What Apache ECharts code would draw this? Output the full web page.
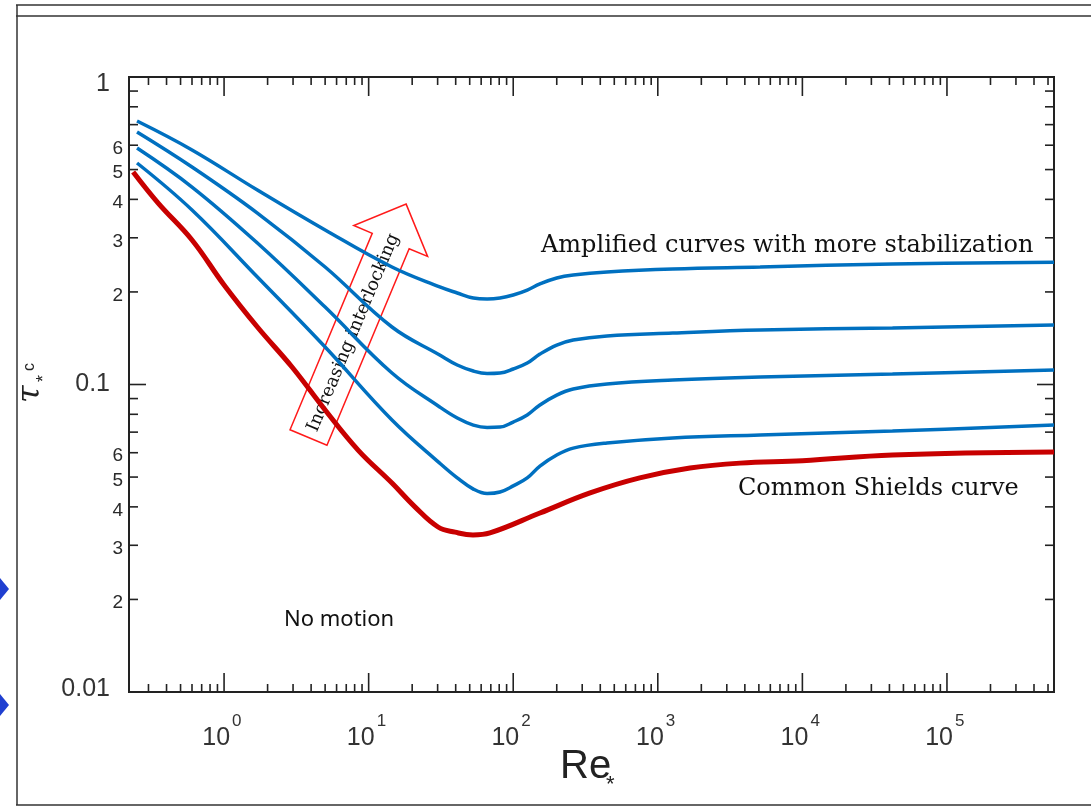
<!DOCTYPE html>
<html>
<head>
<meta charset="utf-8">
<script src="https://cdn.jsdelivr.net/npm/echarts@6/dist/echarts.min.js"></script>
<style>
  html, body { margin: 0; padding: 0; background: #ffffff; }
  #chart { width: 1091px; height: 812px; }
</style>
</head>
<body>
<div id="chart"></div>
<script>
// Axis ranges (particle Reynolds number vs. critical Shields stress)
const RE_MIN = 0.22, RE_MAX = 5.5e5;
const TAU_MIN = 0.01, TAU_MAX = 1;

// Amplified (interlocked) curves, highest (1) to lowest (4)
const reBlue = [0.25, 0.6, 1.7, 5, 14.5, 31, 41, 53, 66, 81, 100, 125, 153, 200, 260, 445, 1270, 5100, 42000, 550000];
const tauBlue1 = [0.719, 0.579, 0.429, 0.318, 0.241, 0.2076, 0.1984, 0.1911, 0.1897, 0.1911, 0.1955, 0.2029, 0.2123, 0.222, 0.227, 0.2322, 0.2375, 0.241, 0.2466, 0.25];
const tauBlue2 = [0.6625, 0.5097, 0.361, 0.241, 0.1538, 0.1247, 0.1157, 0.1106, 0.1086, 0.109, 0.1123, 0.1174, 0.1256, 0.1344, 0.1395, 0.1438, 0.147, 0.1504, 0.1527, 0.1562];
const tauBlue3 = [0.5875, 0.4387, 0.2885, 0.1786, 0.109, 0.0845, 0.0778, 0.0738, 0.0725, 0.0727, 0.0755, 0.0796, 0.0858, 0.0924, 0.0967, 0.1004, 0.1034, 0.1058, 0.1082, 0.1115];
const tauBlue4 = [0.5252, 0.3694, 0.2237, 0.1324, 0.0767, 0.0555, 0.0497, 0.0457, 0.0442, 0.0447, 0.0468, 0.0497, 0.0543, 0.059, 0.0621, 0.0645, 0.067, 0.0685, 0.0706, 0.0738];

// Common Shields curve
const reRed = [0.235, 0.35, 0.6, 1.0, 1.7, 2.95, 5, 8.45, 14.5, 20.9, 30.2, 39.6, 52.7, 69, 153, 340, 750, 1670, 3700, 10000, 42000, 550000];
const tauRed = [0.491, 0.389, 0.2951, 0.2107, 0.1538, 0.114, 0.0826, 0.0612, 0.0478, 0.04, 0.0344, 0.0331, 0.0324, 0.0329, 0.0382, 0.0444, 0.0497, 0.0535, 0.0555, 0.0565, 0.059, 0.0603];

// Tick values and labels
const xMajorTicks = [1, 10, 100, 1000, 10000, 100000];
const xMajorExponents = ['0', '1', '2', '3', '4', '5'];
const xDecades = [0.1, 1, 10, 100, 1000, 10000, 100000];
const yMajorTicks = [0.01, 0.1, 1];
const yMajorLabels = ['0.01', '0.1', '1'];
const yDecades = [0.01, 0.1];
const tickMantissas = [2, 3, 4, 5, 6, 7, 8, 9];
const yMinorLabelled = [2, 3, 4, 5, 6];

const AXIS_COLOR = '#222222';
const LABEL_COLOR = '#333333';
const BLUE = '#0070c0';
const RED = '#c80000';

function pair(xs, ys) { return xs.map((x, i) => [x, ys[i]]); }

// Build tick lists (major + minor) for both axes
const xTickList = [];
xMajorTicks.forEach((v, i) => xTickList.push({ v: v, major: true, exp: xMajorExponents[i] }));
xDecades.forEach(d => tickMantissas.forEach(m => {
  const v = d * m;
  if (v > RE_MIN && v < RE_MAX) xTickList.push({ v: v, major: false });
}));

const yTickList = [];
yMajorTicks.forEach((v, i) => yTickList.push({ v: v, major: true, label: yMajorLabels[i] }));
yDecades.forEach(d => tickMantissas.forEach(m => {
  yTickList.push({ v: d * m, major: false, label: yMinorLabelled.indexOf(m) >= 0 ? String(m) : null });
}));

// Inward ticks on bottom and top edges, with 10^n labels under the bottom edge
function renderXTick(params, api) {
  const t = xTickList[params.dataIndex];
  const b = api.coord([t.v, TAU_MIN]);
  const tp = api.coord([t.v, TAU_MAX]);
  const len = t.major ? 19 : 8;
  const x = b[0];
  const st = { stroke: AXIS_COLOR, lineWidth: 1.6 };
  const children = [
    { type: 'line', shape: { x1: x, y1: b[1], x2: x, y2: b[1] - len }, style: st },
    { type: 'line', shape: { x1: x, y1: tp[1], x2: x, y2: tp[1] + len }, style: st }
  ];
  if (t.major) {
    children.push({ type: 'text', x: x + 6, y: b[1] + 46,
      style: { text: '10', fill: LABEL_COLOR, font: '25px "Liberation Sans", Arial, sans-serif', align: 'right', verticalAlign: 'middle' } });
    children.push({ type: 'text', x: x + 8, y: b[1] + 29,
      style: { text: t.exp, fill: LABEL_COLOR, font: '17px "Liberation Sans", Arial, sans-serif', align: 'left', verticalAlign: 'middle' } });
  }
  return { type: 'group', children: children };
}

// Inward ticks on left and right edges, labels on the left
function renderYTick(params, api) {
  const t = yTickList[params.dataIndex];
  const l = api.coord([RE_MIN, t.v]);
  const r = api.coord([RE_MAX, t.v]);
  const len = t.major ? 17 : 9;
  const st = { stroke: AXIS_COLOR, lineWidth: 1.6 };
  const children = [
    { type: 'line', shape: { x1: l[0], y1: l[1], x2: l[0] + len, y2: l[1] }, style: st },
    { type: 'line', shape: { x1: r[0], y1: r[1], x2: r[0] - len, y2: r[1] }, style: st }
  ];
  if (t.label) {
    if (t.major) {
      const dy = t.v === TAU_MAX ? 7 : (t.v === TAU_MIN ? -3 : 0);
      children.push({ type: 'text', x: l[0] - 19, y: l[1] + dy,
        style: { text: t.label, fill: LABEL_COLOR, font: '25px "Liberation Sans", Arial, sans-serif', align: 'right', verticalAlign: 'middle' } });
    } else {
      children.push({ type: 'text', x: l[0] - 6, y: l[1] + 3.5,
        style: { text: t.label, fill: '#2a2a2a', font: '19px "Liberation Sans", Arial, sans-serif', align: 'right', verticalAlign: 'middle' } });
    }
  }
  return { type: 'group', children: children };
}

const chart = echarts.init(document.getElementById('chart'), null, { renderer: 'canvas' });

const lineBase = { type: 'line', showSymbol: false, symbol: 'none', silent: true, smooth: 0.4, z: 3 };

const option = {
  animation: false,
  backgroundColor: '#ffffff',
  grid: { left: 129, right: 37, top: 77, bottom: 120, show: true, borderColor: AXIS_COLOR, borderWidth: 2, backgroundColor: 'transparent' },
  xAxis: {
    type: 'log', logBase: 10, min: RE_MIN, max: RE_MAX,
    axisLine: { show: false }, axisTick: { show: false }, axisLabel: { show: false },
    splitLine: { show: false }, minorTick: { show: false }
  },
  yAxis: {
    type: 'log', logBase: 10, min: TAU_MIN, max: TAU_MAX,
    axisLine: { show: false }, axisTick: { show: false }, axisLabel: { show: false },
    splitLine: { show: false }, minorTick: { show: false }
  },
  series: [
    { type: 'custom', name: 'x ticks', silent: true, clip: false, z: 2,
      data: xTickList.map(t => [t.v, TAU_MIN]), renderItem: renderXTick },
    { type: 'custom', name: 'y ticks', silent: true, clip: false, z: 2,
      data: yTickList.map(t => [RE_MIN, t.v]), renderItem: renderYTick },
    Object.assign({}, lineBase, { name: 'Shields', data: pair(reRed, tauRed),
      lineStyle: { color: RED, width: 5, cap: 'butt' } }),
    Object.assign({}, lineBase, { name: 'Amplified 4', data: pair(reBlue, tauBlue4), lineStyle: { color: BLUE, width: 3.5 } }),
    Object.assign({}, lineBase, { name: 'Amplified 3', data: pair(reBlue, tauBlue3), lineStyle: { color: BLUE, width: 3.5 } }),
    Object.assign({}, lineBase, { name: 'Amplified 2', data: pair(reBlue, tauBlue2), lineStyle: { color: BLUE, width: 3.5 } }),
    Object.assign({}, lineBase, { name: 'Amplified 1', data: pair(reBlue, tauBlue1), lineStyle: { color: BLUE, width: 3.5 } })
  ],
  graphic: [
    // slide frame
    { type: 'line', silent: true, shape: { x1: 16, y1: 5, x2: 1091, y2: 5 }, style: { stroke: '#333', lineWidth: 1.5 } },
    { type: 'line', silent: true, shape: { x1: 16, y1: 16, x2: 1091, y2: 16 }, style: { stroke: '#333', lineWidth: 1.5 } },
    { type: 'line', silent: true, shape: { x1: 17, y1: 5, x2: 17, y2: 805 }, style: { stroke: '#333', lineWidth: 1.5 } },
    { type: 'line', silent: true, shape: { x1: 16, y1: 805, x2: 1091, y2: 805 }, style: { stroke: '#333', lineWidth: 1.5 } },
    { type: 'polygon', silent: true, shape: { points: [[0, 578], [9, 589], [0, 600]] }, style: { fill: '#1f3fd0' } },
    { type: 'polygon', silent: true, shape: { points: [[0, 694], [9, 705], [0, 716]] }, style: { fill: '#1f3fd0' } },

    // axis titles
    { type: 'text', silent: true, x: 560, y: 767,
      style: { text: 'Re', fill: '#222', font: '40px "Liberation Sans", Arial, sans-serif', align: 'left', verticalAlign: 'middle' } },
    { type: 'text', silent: true, x: 606, y: 785,
      style: { text: '*', fill: '#222', font: '22px "Liberation Sans", Arial, sans-serif', align: 'left', verticalAlign: 'middle' } },
    { type: 'group', silent: true, x: 42, y: 403, rotation: Math.PI / 2,
      children: [
        { type: 'text', x: 0, y: -11, style: { text: 'τ', fill: '#222', font: 'italic 32px "DejaVu Serif", serif', align: 'left', verticalAlign: 'middle' } },
        { type: 'text', x: 21, y: 2, style: { text: '*', fill: '#222', font: '18px "Liberation Sans", Arial, sans-serif', align: 'left', verticalAlign: 'middle' } },
        { type: 'text', x: 32, y: -12, style: { text: 'c', fill: '#222', font: '16px "Liberation Sans", Arial, sans-serif', align: 'left', verticalAlign: 'middle' } }
      ] },

    // annotations
    { type: 'text', silent: true, x: 541, y: 246,
      style: { text: 'Amplified curves with more stabilization', fill: '#111', font: '24px "DejaVu Serif", serif', align: 'left', verticalAlign: 'middle' } },
    { type: 'text', silent: true, x: 738, y: 489,
      style: { text: 'Common Shields curve', fill: '#111', font: '24px "DejaVu Serif", serif', align: 'left', verticalAlign: 'middle' } },
    { type: 'text', silent: true, x: 284, y: 620,
      style: { text: 'No motion', fill: '#111', font: '22px "Noto Sans", sans-serif', align: 'left', verticalAlign: 'middle' } },

    // "Increasing interlocking" arrow
    { type: 'group', silent: true, x: 308.5, y: 437.5, rotation: 67.3 * Math.PI / 180,
      children: [
        { type: 'polygon', shape: { points: [[0, -20], [213, -20], [213, -40], [253, 0], [213, 40], [213, 20], [0, 20]] },
          style: { fill: 'none', stroke: '#ff1a1a', lineWidth: 1.5 } },
        { type: 'text', x: 114, y: 1,
          style: { text: 'Increasing interlocking', fill: '#111', font: '18px "DejaVu Serif", serif', align: 'center', verticalAlign: 'middle' } }
      ] }
  ]
};

chart.setOption(option);
</script>
</body>
</html>
